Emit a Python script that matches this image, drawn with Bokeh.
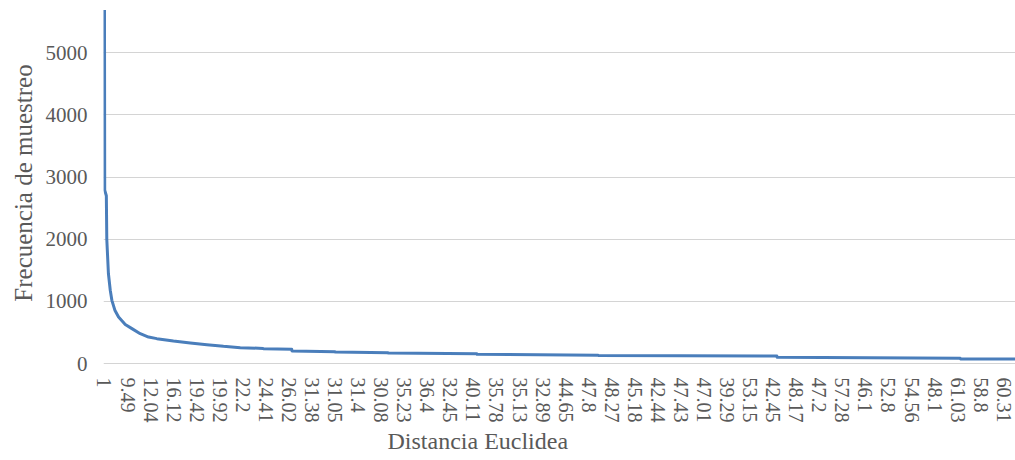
from bokeh.plotting import figure
from bokeh.models import Range1d, FixedTicker, Title
from bokeh.embed import file_html
from bokeh.resources import INLINE

# x tick labels (one every 100 categories)
tick_labels = ["1", "9.49", "12.04", "16.12", "19.42", "19.92", "22.2", "24.41", "26.02", "31.38",
               "31.05", "31.4", "30.08", "35.23", "36.4", "32.45", "40.11", "35.78", "35.13", "32.89",
               "44.65", "47.8", "48.27", "45.18", "42.44", "47.43", "47.01", "39.29", "53.15", "42.45",
               "48.17", "47.2", "57.28", "46.1", "52.8", "54.56", "48.1", "61.03", "58.8", "60.31"]
tick_pos = [i * 100 for i in range(len(tick_labels))]

# category rank (position along the category axis) and frequency
rank = [0, 1, 8, 10, 17, 25, 32, 45, 61, 90, 119, 155, 191, 227, 299, 372, 444, 516, 589,
        688, 689, 812, 813, 1000, 1001, 1230, 1231, 1615, 1616, 2141, 2142,
        2916, 2917, 3711, 3712, 3950]
freq = [5690, 2790, 2700, 2000, 1450, 1180, 1018, 860, 749, 630, 563, 482, 428, 402, 363, 331, 305, 278, 257,
        245, 241, 230, 205, 192, 187, 175, 170, 158, 150, 136, 130,
        124, 101, 88, 76, 74]

y_ticks = [0, 1000, 2000, 3000, 4000, 5000]

FONT = "Liberation Serif"
TXT = "#595959"

p = figure(width=1015, height=460, output_backend="svg", toolbar_location=None,
           x_range=Range1d(-4.3, 3951), y_range=Range1d(-30, 5841),
           min_border_left=103, min_border_right=0, min_border_top=0, min_border_bottom=95)
p.outline_line_color = None
p.background_fill_color = "white"
p.border_fill_color = "white"

p.xgrid.visible = False
p.ygrid.ticker = FixedTicker(ticks=y_ticks)
p.ygrid.grid_line_color = "#d4d4d4"
p.ygrid.grid_line_width = 1

ya = p.yaxis[0]
ya.ticker = FixedTicker(ticks=y_ticks)
ya.axis_line_color = None
ya.major_tick_line_color = None
ya.major_tick_out = 0
ya.major_tick_in = 0
ya.minor_tick_line_color = None
ya.minor_tick_out = 0
ya.major_label_standoff = 16
ya.major_label_text_font = FONT
ya.major_label_text_font_size = "21px"
ya.major_label_text_color = TXT
ya.axis_label = "Frecuencia de muestreo"
ya.axis_label_text_font = FONT
ya.axis_label_text_font_size = "25px"
ya.axis_label_text_font_style = "normal"
ya.axis_label_text_color = TXT
ya.axis_label_standoff = 6

xa = p.xaxis[0]
xa.ticker = FixedTicker(ticks=tick_pos)
xa.major_label_overrides = {pos: lab for pos, lab in zip(tick_pos, tick_labels)}
xa.major_label_orientation = "vertical"
xa.axis_line_color = None
xa.major_tick_line_color = None
xa.major_tick_out = 0
xa.major_tick_in = 0
xa.minor_tick_line_color = None
xa.minor_tick_out = 0
xa.major_label_standoff = 12
xa.major_label_text_font = FONT
xa.major_label_text_font_size = "20px"
xa.major_label_text_color = TXT

p.add_layout(Title(text="Distancia Euclidea", align="left", offset=284,
                   text_font=FONT, text_font_size="24px", text_font_style="normal",
                   text_color=TXT, standoff=0), "below")

p.line(rank, freq, line_width=3, line_color="#4a7ebb", line_join="round")

open("out.html", "w").write(file_html(p, INLINE))
